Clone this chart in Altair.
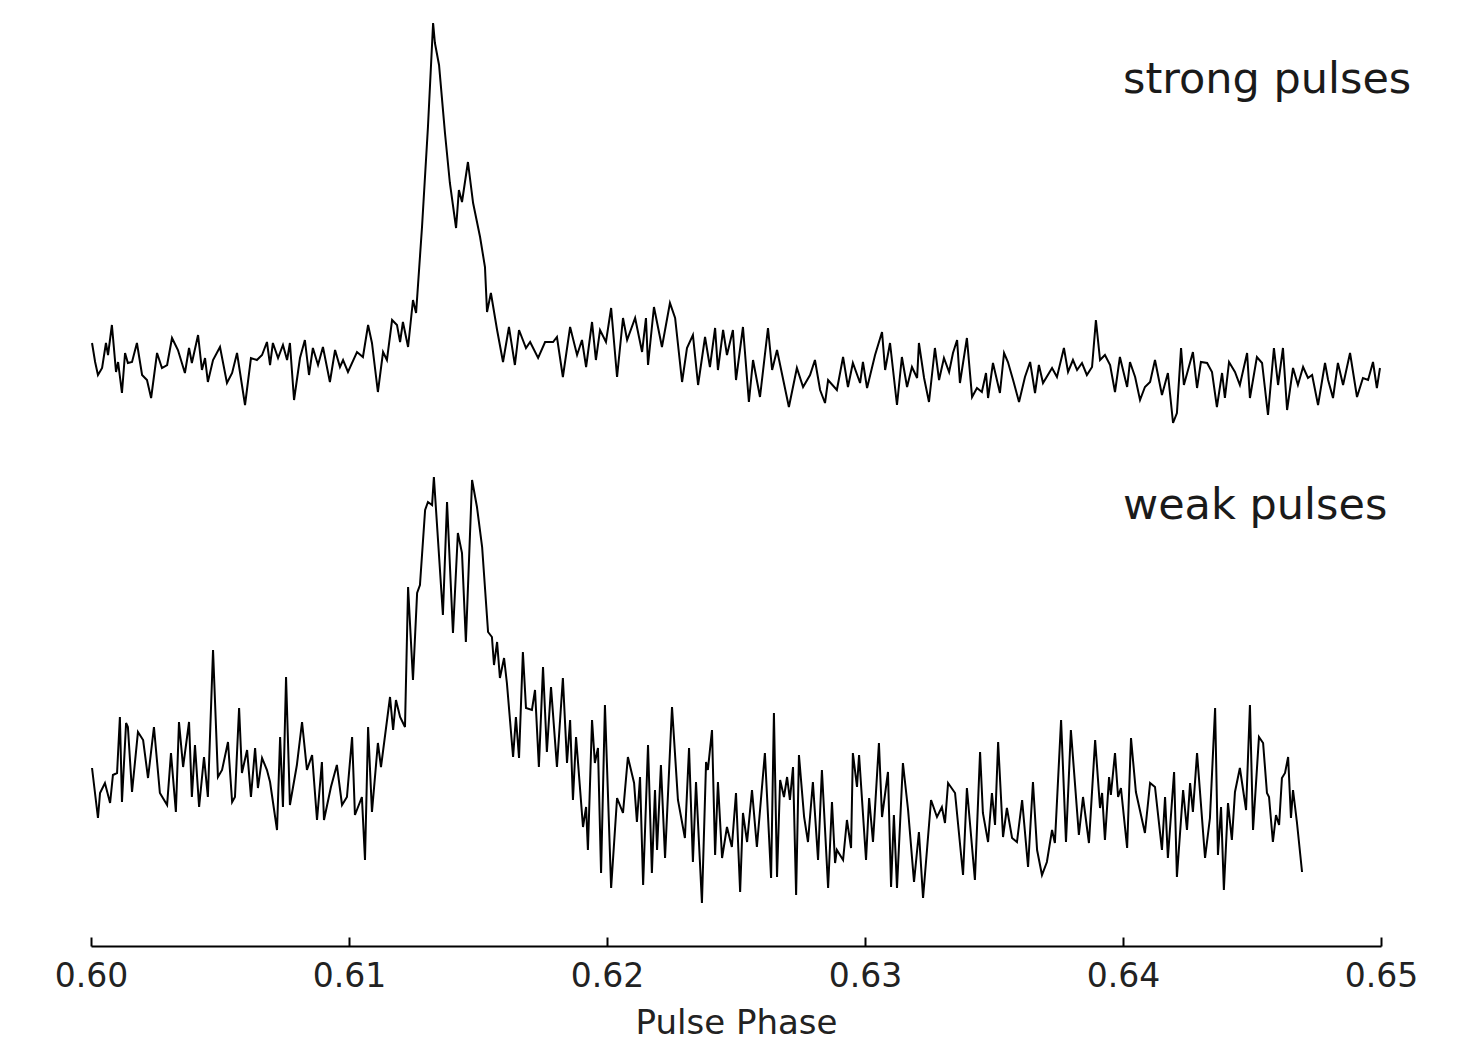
import altair as alt
import pandas as pd

# ---------------- data ----------------
strong_phase = [
    0.60004, 0.60016, 0.60027, 0.60043, 0.60058, 0.60066, 0.60081, 0.60097, 0.60105, 0.60120,
    0.60132, 0.60143, 0.60159, 0.60178, 0.60198, 0.60217, 0.60233, 0.60256, 0.60275, 0.60295,
    0.60314, 0.60337, 0.60364, 0.60380, 0.60391, 0.60415, 0.60430, 0.60442, 0.60453, 0.60473,
    0.60500, 0.60527, 0.60547, 0.60566, 0.60597, 0.60620, 0.60643, 0.60663, 0.60682, 0.60694,
    0.60705, 0.60725, 0.60744, 0.60760, 0.60771, 0.60787, 0.60810, 0.60829, 0.60845, 0.60860,
    0.60880, 0.60899, 0.60926, 0.60946, 0.60965, 0.60977, 0.60996, 0.61031, 0.61054, 0.61074,
    0.61089, 0.61112, 0.61132, 0.61147, 0.61167, 0.61186, 0.61198, 0.61209, 0.61229, 0.61248,
    0.61260, 0.61283, 0.61306, 0.61326, 0.61333, 0.61349, 0.61372, 0.61391, 0.61415, 0.61426,
    0.61438, 0.61461, 0.61481, 0.61508, 0.61527, 0.61535, 0.61550, 0.61574, 0.61597, 0.61620,
    0.61643, 0.61659, 0.61686, 0.61702, 0.61733, 0.61760, 0.61791, 0.61806, 0.61829, 0.61857,
    0.61884, 0.61903, 0.61919, 0.61942, 0.61957, 0.61973, 0.61996, 0.62016, 0.62039, 0.62062,
    0.62078, 0.62109, 0.62136, 0.62151, 0.62159, 0.62182, 0.62213, 0.62244, 0.62264, 0.62291,
    0.62310, 0.62333, 0.62353, 0.62380, 0.62399, 0.62419, 0.62430, 0.62450, 0.62465, 0.62488,
    0.62500, 0.62527, 0.62550, 0.62566, 0.62593, 0.62624, 0.62640, 0.62659, 0.62705, 0.62736,
    0.62760, 0.62787, 0.62806, 0.62826, 0.62845, 0.62857, 0.62891, 0.62915, 0.62934, 0.62953,
    0.62981, 0.62992, 0.63008, 0.63039, 0.63066, 0.63078, 0.63097, 0.63124, 0.63143, 0.63163,
    0.63182, 0.63202, 0.63209, 0.63229, 0.63248, 0.63271, 0.63287, 0.63306, 0.63326, 0.63341,
    0.63357, 0.63368, 0.63395, 0.63415, 0.63434, 0.63453, 0.63469, 0.63477, 0.63496, 0.63523,
    0.63539, 0.63554, 0.63574, 0.63597, 0.63620, 0.63640, 0.63659, 0.63674, 0.63690, 0.63725,
    0.63744, 0.63771, 0.63787, 0.63806, 0.63822, 0.63841, 0.63860, 0.63880, 0.63895, 0.63911,
    0.63930, 0.63950, 0.63969, 0.63988, 0.64016, 0.64027, 0.64047, 0.64066, 0.64085, 0.64105,
    0.64124, 0.64151, 0.64174, 0.64194, 0.64209, 0.64225, 0.64236, 0.64252, 0.64271, 0.64287,
    0.64302, 0.64326, 0.64345, 0.64364, 0.64384, 0.64395, 0.64411, 0.64434, 0.64453, 0.64481,
    0.64492, 0.64519, 0.64539, 0.64562, 0.64585, 0.64601, 0.64620, 0.64636, 0.64659, 0.64678,
    0.64698, 0.64717, 0.64733, 0.64756, 0.64783, 0.64795, 0.64814, 0.64833, 0.64853, 0.64880,
    0.64907, 0.64930, 0.64950, 0.64969, 0.64984, 0.64996,
]
strong_flux = [
    603, 584, 571, 578, 603, 591, 621, 574, 584, 553,
    593, 583, 584, 603, 571, 566, 548, 593, 578, 581,
    608, 596, 573, 598, 583, 611, 576, 588, 564, 586,
    599, 563, 573, 593, 541, 588, 586, 591, 604, 581,
    603, 588, 601, 586, 603, 546, 588, 606, 571, 598,
    581, 599, 564, 596, 579, 586, 574, 594, 589, 621,
    603, 554, 594, 586, 626, 621, 604, 624, 599, 646,
    633, 719, 819, 923, 903, 881, 813, 763, 718, 756,
    744, 784, 743, 709, 679, 634, 653, 616, 584, 619,
    581, 616, 598, 604, 588, 604, 604, 609, 569, 619,
    591, 606, 579, 624, 586, 616, 604, 638, 569, 628,
    606, 628, 594, 628, 581, 639, 599, 643, 628, 564,
    598, 611, 561, 609, 579, 618, 576, 616, 591, 616,
    566, 619, 544, 586, 549, 618, 576, 596, 539, 578,
    559, 571, 586, 556, 543, 566, 556, 589, 559, 583,
    563, 584, 558, 591, 614, 576, 603, 541, 589, 559,
    579, 568, 603, 568, 544, 598, 566, 588, 574, 593,
    606, 563, 608, 549, 558, 554, 573, 548, 583, 553,
    593, 584, 566, 544, 569, 584, 553, 581, 563, 578,
    569, 598, 574, 586, 576, 583, 571, 579, 626, 586,
    591, 581, 554, 589, 559, 584, 569, 546, 559, 564,
    586, 551, 573, 523, 533, 598, 561, 576, 594, 558,
    584, 583, 574, 539, 573, 548, 584, 574, 561, 593,
    548, 589, 583, 531, 598, 561, 598, 536, 578, 561,
    579, 568, 571, 541, 583, 566, 548, 583, 561, 593,
    549, 568, 566, 584, 558, 578,
]

weak_phase = [
    0.60004, 0.60027, 0.60035, 0.60054, 0.60074, 0.60085, 0.60101, 0.60112, 0.60120, 0.60136,
    0.60143, 0.60159, 0.60182, 0.60202, 0.60221, 0.60244, 0.60267, 0.60295, 0.60310, 0.60329,
    0.60341, 0.60357, 0.60380, 0.60391, 0.60403, 0.60419, 0.60438, 0.60453, 0.60473, 0.60492,
    0.60508, 0.60531, 0.60547, 0.60558, 0.60574, 0.60585, 0.60605, 0.60620, 0.60636, 0.60647,
    0.60663, 0.60682, 0.60694, 0.60721, 0.60733, 0.60744, 0.60756, 0.60771, 0.60798, 0.60818,
    0.60837, 0.60857, 0.60876, 0.60895, 0.60903, 0.60930, 0.60953, 0.60973, 0.60992, 0.61012,
    0.61023, 0.61050, 0.61062, 0.61074, 0.61089, 0.61112, 0.61124, 0.61159, 0.61171, 0.61182,
    0.61198, 0.61217, 0.61229, 0.61248, 0.61264, 0.61275, 0.61295, 0.61306, 0.61322, 0.61329,
    0.61364, 0.61380, 0.61403, 0.61422, 0.61438, 0.61453, 0.61477, 0.61496, 0.61516, 0.61539,
    0.61554, 0.61562, 0.61574, 0.61585, 0.61601, 0.61612, 0.61636, 0.61647, 0.61659, 0.61674,
    0.61686, 0.61709, 0.61721, 0.61736, 0.61752, 0.61767, 0.61783, 0.61806, 0.61829, 0.61845,
    0.61857, 0.61868, 0.61880, 0.61907, 0.61919, 0.61926, 0.61942, 0.61953, 0.61965, 0.61977,
    0.61992, 0.62016, 0.62039, 0.62062, 0.62081, 0.62105, 0.62116, 0.62128, 0.62140, 0.62159,
    0.62174, 0.62186, 0.62194, 0.62209, 0.62225, 0.62252, 0.62275, 0.62302, 0.62318, 0.62333,
    0.62345, 0.62368, 0.62384, 0.62391, 0.62407, 0.62419, 0.62430, 0.62446, 0.62465, 0.62484,
    0.62500, 0.62516, 0.62527, 0.62543, 0.62562, 0.62581, 0.62612, 0.62636, 0.62647, 0.62659,
    0.62671, 0.62686, 0.62698, 0.62709, 0.62721, 0.62733, 0.62744, 0.62764, 0.62779, 0.62798,
    0.62818, 0.62833, 0.62857, 0.62872, 0.62884, 0.62891, 0.62915, 0.62930, 0.62946, 0.62953,
    0.62969, 0.62977, 0.63004, 0.63016, 0.63031, 0.63054, 0.63066, 0.63089, 0.63101, 0.63112,
    0.63124, 0.63147, 0.63167, 0.63190, 0.63209, 0.63225, 0.63256, 0.63279, 0.63298, 0.63310,
    0.63322, 0.63349, 0.63380, 0.63395, 0.63426, 0.63446, 0.63457, 0.63477, 0.63492, 0.63504,
    0.63516, 0.63535, 0.63550, 0.63570, 0.63589, 0.63609, 0.63632, 0.63651, 0.63667, 0.63686,
    0.63705, 0.63725, 0.63736, 0.63760, 0.63779, 0.63798, 0.63829, 0.63845, 0.63868, 0.63892,
    0.63911, 0.63919, 0.63930, 0.63946, 0.63953, 0.63969, 0.63981, 0.63992, 0.64016, 0.64031,
    0.64050, 0.64085, 0.64105, 0.64124, 0.64151, 0.64163, 0.64174, 0.64198, 0.64209, 0.64233,
    0.64248, 0.64260, 0.64271, 0.64287, 0.64318, 0.64337, 0.64357, 0.64368, 0.64380, 0.64391,
    0.64407, 0.64422, 0.64434, 0.64453, 0.64477, 0.64492, 0.64504, 0.64527, 0.64543, 0.64558,
    0.64566, 0.64581, 0.64593, 0.64605, 0.64616, 0.64628, 0.64640, 0.64651, 0.64659, 0.64674, 0.64694,
]
weak_flux = [
    178, 128, 153, 163, 143, 171, 173, 229, 144, 223,
    219, 154, 214, 206, 168, 219, 153, 141, 193, 134,
    224, 179, 224, 149, 201, 139, 189, 149, 296, 169,
    176, 204, 144, 149, 238, 173, 196, 149, 198, 158,
    188, 176, 164, 116, 209, 139, 269, 141, 181, 224,
    176, 191, 126, 184, 126, 159, 181, 141, 149, 209,
    131, 149, 86, 219, 134, 203, 179, 249, 216, 246,
    229, 219, 359, 266, 353, 361, 436, 444, 441, 469,
    331, 444, 313, 413, 393, 304, 466, 439, 399, 314,
    309, 281, 304, 268, 288, 263, 189, 229, 188, 294,
    238, 236, 256, 179, 279, 194, 259, 179, 268, 183,
    226, 146, 209, 119, 139, 96, 226, 183, 198, 73,
    241, 58, 148, 133, 189, 163, 124, 169, 61, 201,
    73, 156, 96, 181, 88, 239, 146, 108, 198, 84,
    164, 43, 184, 176, 216, 91, 164, 88, 119, 99,
    153, 54, 133, 104, 156, 99, 193, 68, 233, 69,
    166, 149, 169, 146, 179, 51, 191, 129, 104, 164,
    86, 176, 58, 144, 83, 96, 86, 126, 98, 193,
    159, 191, 86, 148, 104, 203, 129, 174, 59, 131,
    58, 183, 136, 64, 114, 48, 146, 129, 139, 123,
    163, 153, 71, 158, 66, 194, 133, 104, 153, 121,
    204, 109, 138, 108, 104, 146, 79, 164, 96, 71,
    84, 116, 103, 226, 104, 216, 111, 149, 103, 206,
    138, 153, 106, 169, 151, 193, 149, 158, 98, 208,
    154, 113, 163, 159, 96, 149, 88, 174, 69, 156,
    116, 163, 134, 193, 88, 128, 238, 91, 139, 56,
    143, 106, 154, 178, 136, 241, 116, 209, 203, 153,
    149, 104, 131, 121, 168, 173, 189, 128, 156, 124, 74,
]

tick_values = [0.60, 0.61, 0.62, 0.63, 0.64, 0.65]
annot_text = ["strong pulses", "weak pulses"]
annot_phase = [0.640, 0.640]
annot_flux = [853, 427]

# ---------------- build tables ----------------
df = pd.concat([
    pd.DataFrame({"phase": strong_phase, "flux": strong_flux, "series": "strong"}),
    pd.DataFrame({"phase": weak_phase, "flux": weak_flux, "series": "weak"}),
], ignore_index=True)
annot = pd.DataFrame({"label": annot_text, "phase": annot_phase, "flux": annot_flux})

FONT = "DejaVu Sans"
W, H = 1290, 930
x_scale = alt.Scale(domain=[0.60, 0.65], nice=False, zero=False)
y_scale = alt.Scale(domain=[0, 930], nice=False, zero=False)

lines = alt.Chart(df).mark_line(color="black", strokeWidth=2.0, strokeJoin="miter").encode(
    x=alt.X("phase:Q", scale=x_scale,
            axis=alt.Axis(values=tick_values, format=".2f", title="Pulse Phase",
                          ticks=False, grid=False, domain=True, domainColor="black",
                          domainWidth=2, labelFont=FONT, labelFontSize=33,
                          labelColor="#222222", labelPadding=14, labelFlush=False,
                          labelOverlap=False, titleFont=FONT, titleFontSize=34,
                          titleFontWeight="normal", titleColor="#222222",
                          titlePadding=13)),
    y=alt.Y("flux:Q", scale=y_scale, axis=None),
    detail="series:N",
)

texts = alt.Chart(annot).mark_text(
    align="left", baseline="alphabetic", font=FONT, fontSize=43, color="#1a1a1a"
).encode(
    x=alt.X("phase:Q", scale=x_scale,
            axis=alt.Axis(orient="top", offset=-H, values=tick_values, labels=False,
                          domain=False, grid=False, title=None, ticks=True,
                          tickSize=9, tickWidth=2, tickColor="black")),
    y=alt.Y("flux:Q", scale=y_scale, axis=None),
    text="label:N",
)

chart = alt.layer(lines, texts).resolve_axis(x="independent").properties(
    width=W, height=H,
    padding={"left": 83, "top": 8, "right": 70, "bottom": 95},
    autosize=alt.AutoSizeParams(type="none"),
).configure_view(stroke=None)

chart.save("out.html", embed_options={"renderer": "svg", "actions": False})
